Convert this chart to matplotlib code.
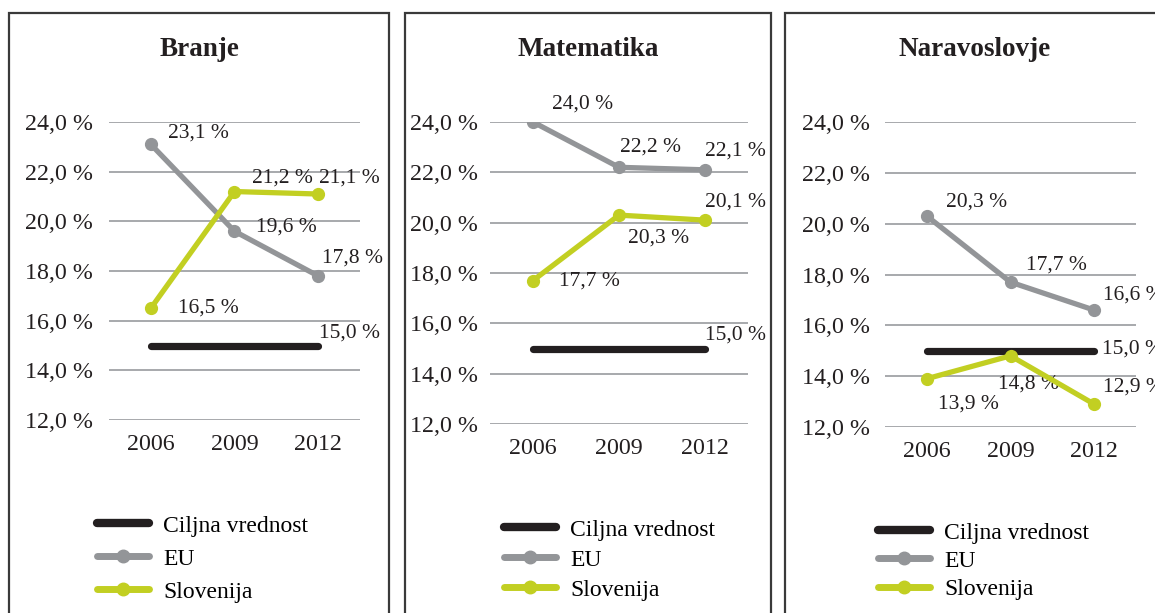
import matplotlib.pyplot as plt
from matplotlib.patches import Rectangle
from matplotlib.lines import Line2D

plt.rcParams['font.family'] = ['Liberation Serif', 'DejaVu Serif']

years = ['2006', '2009', '2012']
titles = ['Branje', 'Matematika', 'Naravoslovje']
target = [15.0, 15.0, 15.0]
eu = [
    [23.1, 19.6, 17.8],
    [24.0, 22.2, 22.1],
    [20.3, 17.7, 16.6],
]
slo = [
    [16.5, 21.2, 21.1],
    [17.7, 20.3, 20.1],
    [13.9, 14.8, 12.9],
]
yticks = [12, 14, 16, 18, 20, 22, 24]

GRAY = '#939598'
GREEN = '#c2cf22'
BLACK = '#231f20'
GRID = '#a7a9ac'

W, H = 1155, 613
fig = plt.figure(figsize=(W / 100, H / 100), dpi=100)

# pixel layout of each panel: frame, axes (left, right, top, bottom), title x,
# legend position, legend row spacing, y tick pad
panels = [
    dict(frame=(9, 389), ax=(109, 360, 122, 420), tx=200, leg=(97, 545), ls=0.49, pad=11.5),
    dict(frame=(405, 771), ax=(490, 748, 122, 424), tx=588, leg=(504, 549), ls=0.36, pad=8.6),
    dict(frame=(785, 1165), ax=(885, 1136, 122, 427), tx=975, leg=(878, 552), ls=0.28, pad=10.8),
]

# data label offsets in pixels (dx, dy)
off_eu = [
    [(17, 11), (22, 4), (4, 18)],
    [(19, 18), (1, 20), (0, 19)],
    [(19, 14), (16, 17), (9, 15)],
]
off_slo = [
    [(27, 0), (18, 13), (1, 16)],
    [(26, 0), (9, -23), (0, 18)],
    [(11, -25), (-13, -28), (9, 17)],
]
off_tgt = [(1, 12), (0, 13), (8, 2)]


def fmt(v):
    return f'{v:.1f}'.replace('.', ',') + ' %'


for i, p in enumerate(panels):
    fl, fr = p['frame']
    fig.patches.append(Rectangle((fl / W, -0.05), (fr - fl) / W, (H - 13) / H + 0.05,
                                 transform=fig.transFigure, fill=False,
                                 edgecolor='#3a3a3a', linewidth=1.6))
    l, r, t, b = p['ax']
    ax = fig.add_axes([l / W, (H - b) / H, (r - l) / W, (b - t) / H])
    x = range(len(years))
    ax.plot(x, target, color=BLACK, lw=5.2, solid_capstyle='round', zorder=3)
    ax.plot(x, eu[i], color=GRAY, lw=3.8, marker='o', ms=8.5, solid_capstyle='round', zorder=4)
    ax.plot(x, slo[i], color=GREEN, lw=3.8, marker='o', ms=8.5, solid_capstyle='round', zorder=5)

    ax.set_xlim(-0.5, 2.5)
    ax.set_ylim(12, 24)
    ax.set_yticks(yticks)
    ax.set_yticklabels([fmt(v) for v in yticks])
    ax.set_xticks(list(x))
    ax.set_xticklabels(years)
    ax.tick_params(length=0, labelsize=17.3, colors='#231f20')
    ax.tick_params(axis='y', pad=p['pad'])
    ax.tick_params(axis='x', pad=10)
    ax.grid(axis='y', color=GRID, lw=1.4)
    ax.set_axisbelow(True)
    for s in ax.spines.values():
        s.set_visible(False)
    ax.patch.set_alpha(0)

    for j in range(3):
        ax.annotate(fmt(eu[i][j]), (j, eu[i][j]), xytext=off_eu[i][j],
                    textcoords='offset pixels', ha='left', va='center', fontsize=15.5, color='#231f20')
        ax.annotate(fmt(slo[i][j]), (j, slo[i][j]), xytext=off_slo[i][j],
                    textcoords='offset pixels', ha='left', va='center', fontsize=15.5, color='#231f20')
    ax.annotate(fmt(target[2]), (2, target[2]), xytext=off_tgt[i],
                textcoords='offset pixels', ha='left', va='center', fontsize=15.5, color='#231f20',
                annotation_clip=False)

    fig.text(p['tx'] / W, (H - 50) / H, titles[i], ha='center', va='center',
             fontsize=19.5, fontweight='bold', color='#231f20')

    handles = [
        Line2D([], [], color=BLACK, lw=6, solid_capstyle='round'),
        Line2D([], [], color=GRAY, lw=5, marker='o', ms=9, solid_capstyle='round'),
        Line2D([], [], color=GREEN, lw=5, marker='o', ms=9, solid_capstyle='round'),
    ]
    lx, ly = p['leg']
    fig.legend(handles, ['Ciljna vrednost', 'EU', 'Slovenija'], loc='upper left',
               bbox_to_anchor=(lx / W, (H - ly + 30) / H), bbox_transform=fig.transFigure,
               frameon=False, fontsize=17, handlelength=2.2, handletextpad=0.6,
               labelspacing=p['ls'], borderpad=0, borderaxespad=0)

fig.savefig('out.png', dpi=100)
